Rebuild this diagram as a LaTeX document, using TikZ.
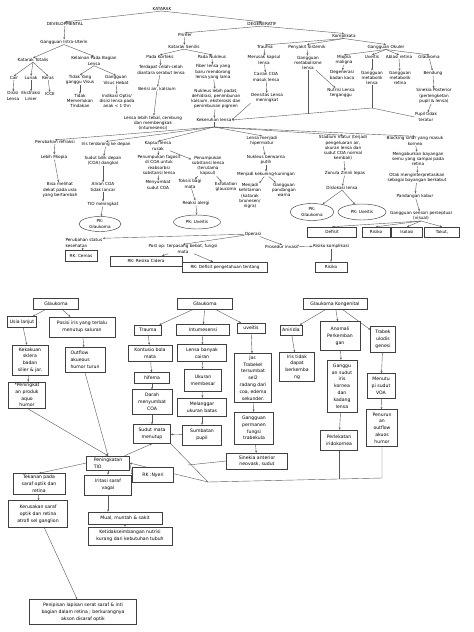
\documentclass[tikz,border=0pt]{standalone}
\usepackage{fontspec}
\newfontfamily\dv{DejaVu Sans}
\usetikzlibrary{arrows.meta,shapes.geometric,backgrounds}
\begin{document}
\begin{tikzpicture}[x=1pt,y=-1pt,
 tx/.style={font=\dv\fontsize{4.2}{5.2}\selectfont, align=center, inner sep=0.3pt},
 bx/.style={draw=black!75, line width=0.45pt, fill=white, font=\dv\fontsize{4.6}{6.8}\selectfont, align=center, inner sep=0.5pt},
 bxs/.style={bx, font=\dv\fontsize{4.2}{5.2}\selectfont},
 el/.style={ellipse, draw=black!75, line width=0.45pt, fill=white, font=\dv\fontsize{4.2}{5.2}\selectfont, align=center, inner sep=0pt},
 sz/.style 2 args={minimum width=#1, minimum height=#2},
 ln/.style={draw=black!65, line width=0.4pt},
 ar/.style={ln, -{Stealth[length=2.3pt,width=1.9pt]}},
]
\begin{pgfonlayer}{background}
\fill[white] (0,0) rectangle (474,632);
\end{pgfonlayer}
\useasboundingbox (0,0) rectangle (474,632);

% ---------- top part ----------
\node[tx] (kat) at (162,9) {KATARAK};
\node[tx] (dev) at (65,24) {DEVELOPMENTAL};
\node[tx] (deg) at (262,24) {DEGENERATIF};
\node[tx] (giu) at (64,42) {Gangguan Intra-Uterin};
\node[tx] (ktot) at (33,60) {Katarak Totalis};
\node[tx] (kbl) at (94,61) {Kelainan Pada Bagian\\Lensa};
\node[tx] (cair) at (14,78) {Cair};
\node[tx] (lunak) at (31,78) {Lunak};
\node[tx] (keras) at (48,78) {Keras};
\node[tx] (dis) at (13,96) {Disisi\\Lensa};
\node[tx] (eks) at (31,96) {Ekstraksi\\Linier};
\node[tx] (icce) at (50,94) {ICCE};
\node[tx] (tyg) at (80,80) {Tidak Yang\\ganggu Visus};
\node[tx] (gvh) at (116,80) {Gangguan\\Visus Hebat};
\node[tx] (tmt) at (80,101) {Tidak\\Memerlukan\\Tindakan};
\node[tx] (ind) at (117,101) {Indikasi Optis/\\disisi lensa pada\\anak < 1 thn};

\node[tx] (pri) at (185,35) {Primer};
\node[tx] (sen) at (184,47) {Katarak Senilis};
\node[tx] (pko) at (160,57) {Pada Korteks};
\node[tx] (pnu) at (212,57) {Pada Nukleus};
\node[tx] (tcc) at (161,70) {Terdapat celah-celah\\diantara serabut lensa};
\node[tx] (fib) at (213,72) {Fiber lensa yang\\baru mendorong\\lensa yang lama};
\node[tx] (bak) at (157,89) {Berisi air, kalsium};
\node[tx] (nlp) at (216,99) {Nukleus lebih padat,\\dehidrasi, penimbunan\\kalsium, eksterosis dan\\penimbunan pigmen};

\node[tx] (kom) at (344,36) {Komplikata};
\node[tx] (tra) at (265,47) {Trauma};
\node[tx] (sis) at (307,47) {Penyakit Sistemik};
\node[tx] (gok) at (386,47) {Gangguan Okuler};
\node[tx] (mkl) at (264,60) {Merusak kapsul\\lensa};
\node[tx] (coa) at (266,77) {Cairan COA\\masuk lensa};
\node[tx] (dlm) at (267,98) {Densitas Lensa\\meningkat};
\node[tx] (gml) at (308,63) {Gangguan\\metabolisme\\lensa};
\node[tx] (mio) at (344,60) {Miopia\\maligna};
\node[tx] (uve) at (372,57) {Uveitis};
\node[tx] (abl) at (399,57) {Ablasi retina};
\node[tx] (gla) at (429,57) {Glaukoma};
\node[tx] (dbk) at (342,75) {Degenerasi\\badan kaca};
\node[tx] (gmlu) at (372,78) {Gangguan\\metabolik\\lensa};
\node[tx] (gmr) at (400,78) {Gangguan\\metabolik\\retina};
\node[tx] (ben) at (433,73) {Bendung};
\node[tx] (nlt) at (341,93) {Nutrisi Lensa\\terganggu};
\node[tx] (sp) at (434,96) {Sinekia Posterior\\(perlengketan\\pupil \& lensa)};
\node[tx] (ptt) at (426,117) {Pupil tidak\\teratur};

\node[tx] (llt) at (153,123) {Lensa lebih tebal, cembung\\dan membengkak\\(intumesensi)};
\node[tx] (kek) at (214,120) {Kekeruhan lensa};

\node[tx] (pref) at (55,142) {Perubahan refraksi};
\node[tx] (itd) at (106,144) {Iris terdorong ke depan};
\node[tx] (klr) at (158,146) {Kapsul lensa\\rusak};
\node[tx] (lmh) at (262,141) {Lensa menjadi\\hipermatur};
\node[tx] (stm) at (343,148) {Stadium matur (terjadi\\pengeluaran air,\\ukuran lensa dan\\sudut COA normal\\kembali)};
\node[tx] (blk) at (415,141) {Blocking sinar yang masuk\\kornea};

\node[tx] (lmi) at (54,157) {Lebih Miopia};
\node[tx] (bmd) at (60,190) {Bisa melihat\\dekat pada usia\\yang bertambah};
\node[tx] (sbd) at (103,161) {Sudut bilik depan\\(COA) dangkal};
\node[tx] (acoa) at (103,187) {Aliran COA\\tidak lancar};
\node[tx] (tio1) at (103,204) {TIO meningkat};
\node[el, sz={42pt}{15pt}] (pkg1) at (100,224) {PK:\\Glaukoma};

\node[tx] (pfg) at (159,165) {Penumpukan fagosit\\di COA untuk\\reabsorbsi\\substansi lensa};
\node[tx] (msc) at (158,185) {Menyumbat\\sudut COA};
\node[tx] (psl) at (208,166) {Penumpukan\\substansi lensa\\(terutama\\kapsul)};
\node[tx] (tbm) at (190,184) {Toksis bagi\\mata};
\node[tx] (exg) at (226,187) {Exfoliation\\glaucoma};
\node[tx] (ral) at (196,203) {Reaksi alergi};
\node[el, sz={47pt}{14pt}] (pku) at (197,222) {PK: Uveitis};

\node[tx] (nbp) at (266,160) {Nukleus berwarna\\putih};
\node[tx] (mkk) at (266,174) {Menjadi kekuning-kuningan};
\node[tx] (mkh) at (250,196) {Menjadi\\kehitaman\\(katarak\\brunesen/\\nigra)};
\node[tx] (gpw) at (284,190) {Gangguan\\pandangan\\warna};

\node[tx] (zzl) at (345,173) {Zonula Zinnii lepas};
\node[tx] (dsl) at (342,188) {Dislokasi lensa};
\node[el, sz={44pt}{17pt}] (pkg2) at (312,212) {PK:\\Glaukoma};
\node[el, sz={48pt}{16pt}] (pku2) at (362,212) {PK: Uveitis};

\node[tx] (mby) at (418,159) {Mengaburkan bayangan\\semu yang sampai pada\\retina};
\node[tx] (otk) at (417,178) {Otak menginterpretasikan\\sebagai bayangan berkabut};
\node[tx] (pkb) at (415,196) {Pandangan kabur};
\node[tx] (gsp) at (421,216) {Gangguan sensori perseptual\\(visual)};
\node[bxs, sz={49pt}{10pt}] (def) at (332,232) {Defisit};
\node[bxs, sz={28pt}{10pt}] (ris) at (376,232) {Risiko};
\node[bxs, sz={31pt}{10pt}] (iso) at (407,232) {Isolasi};
\node[bxs, sz={35pt}{10pt}] (tak) at (442,232) {Takut,};

\node[tx] (ops) at (253,234) {Operasi};
\node[tx, align=left, anchor=west] (psk) at (65,243) {Perubahan status\\kesehatan};
\node[bxs, sz={32pt}{11pt}] (rkc) at (81,256) {RK: Cemas};
\node[tx] (pop) at (183,249) {Post op: terpasang bebat, fungsi\\mata};
\node[bxs, sz={72pt}{10pt}] (rkr) at (146,261) {RK: Resiko Cidera};
\node[bxs, sz={85pt}{10pt}] (rkd) at (225,267) {RK: Defisit pengetahuan tentang};
\node[tx] (pin) at (282,247) {Prosedur invasif};
\node[tx] (rkk) at (331,246) {Risiko komplikasi};
\node[bxs, sz={32pt}{10pt}] (risb) at (331,267) {Risiko};

% ---------- bottom part ----------
\node[bx, sz={45pt}{11pt}] (gl1) at (56,304) {Glaukoma};
\node[bx, sz={29pt}{11pt}] (ul) at (22,322) {Usia lanjut};
\node[bx, sz={66pt}{20pt}] (pis) at (82,327) {Posisi iris yang terlalu\\menutup saluran};
\node[bx, sz={36pt}{30pt}] (kks) at (30,360) {Kekakuan\\sklera\\badan\\silier \& jar.};
\node[bx, sz={37pt}{26pt}] (ppa) at (27,395) {*Peningkat\\an produk\\aquo\\humor};
\node[bx, sz={40pt}{25pt}, align=left] (ouh) at (85,360) {Outflow\\akueous\\humor turun};
\node[bx, sz={43pt}{14pt}, align=left] (tio) at (108,463) {Peningkatan\\TIO};

\node[bx, sz={55pt}{11pt}] (gl2) at (205,304) {Glaukoma};
\node[bx, sz={27pt}{10pt}] (trm) at (148,330) {Trauma};
\node[bx, sz={53pt}{11pt}] (int) at (203,330) {Intumesensi};
\node[bx, sz={28pt}{10pt}] (uvb) at (251,328) {uveitis};
\node[bx, sz={44pt}{16pt}] (kbm) at (150,353) {Kontusio bola\\mata};
\node[bx, sz={35pt}{11pt}] (hif) at (152,378) {hifema};
\node[bx, sz={40pt}{25pt}] (dms) at (152,402) {Darah\\menyumbat\\COA};
\node[bx, sz={37pt}{19pt}] (smm) at (152,434) {Sudut mata\\menutup};
\node[bx, sz={49pt}{17pt}] (lbc) at (202,353) {Lensa banyak\\cairan};
\node[bx, sz={37pt}{22pt}] (umb) at (203,380) {Ukuran\\membesar};
\node[bx, sz={49pt}{18pt}] (mub) at (202,407) {Melanggar\\ukuran batas};
\node[bx, sz={39pt}{20pt}] (spp) at (202,435) {Sumbatan\\pupil};
\node[bx, sz={37pt}{49pt}] (jtr) at (253,378) {Jar.\\Trabekel\\tersumbat\\sel2\\radang dari\\coa, edema\\sekunder.};
\node[bx, sz={39pt}{32pt}] (gpf) at (254,428) {Gangguan\\permanen\\fungsi\\trabekula};
\node[bx, sz={61pt}{16pt}] (sna) at (257,461) {Sinekia anterior\\neovask, sudut};

\node[bx, sz={64pt}{11pt}] (glk) at (335,304) {Glaukoma Kongenital};
\node[bx, sz={22pt}{10pt}] (ani) at (291,330) {Aniridia};
\node[bx, sz={35pt}{29pt}] (itb) at (297,367) {Iris tidak\\dapat\\berkemba\\ng};
\node[bx, sz={40pt}{29pt}] (anp) at (340,336) {Anomali\\Perkemban\\gan};
\node[bx, sz={25pt}{26pt}] (trb) at (383,339) {Trabek\\ulodis\\genesi};
\node[bx, sz={30pt}{52pt}] (gsi) at (342,386) {Ganggu\\an sudut\\iris\\kornea\\dan\\kadang\\lensa};
\node[bx, sz={37pt}{20pt}] (pik) at (339,440) {Perlekatan\\iridokornea};
\node[bx, sz={28pt}{25pt}] (mnt) at (381,386) {Menutu\\pi sudut\\VOA};
\node[bx, sz={31pt}{37pt}] (pna) at (382,428) {Penurun\\an\\outflow\\akuos\\humor};

\node[bx, sz={41pt}{15pt}] (rkn) at (153,475) {RK :Nyeri};
\node[bx, sz={52pt}{21pt}] (tkp) at (39,484) {Tekanan pada\\saraf optik dan\\retina};
\node[bx, sz={47pt}{20pt}] (isv) at (108,485) {Iritasi saraf\\vagal};
\node[bx, sz={59pt}{27pt}] (krs) at (38,514) {Kerusakan saraf\\optik dan retina\\atrofi sel ganglion};
\node[bx, sz={74pt}{12pt}] (mms) at (125,518) {Mual, muntah \& sakit};
\node[bx, sz={84pt}{18pt}] (kdn) at (130,536) {Ketidakseimbangan nutrisi\\kurang dari kebutuhan tubuh};
\node[bx, sz={107pt}{25pt}] (pls) at (83,612) {Penipisan lapisan serat saraf \& inti\\bagian dalam retina ; berkurangnya\\akson disaraf optik};

\coordinate (kf) at (214,127);
\coordinate (j1) at (372,108);
\coordinate (J) at (208,482);

% ---------- connectors ----------
\begin{pgfonlayer}{background}
\draw[ar] (kat.south) -- (dev.north);
\draw[ar] (kat.south) -- (deg.north);
\draw[ar] (dev) -- (giu);
\draw[ar] (giu.south) -- (ktot.north);
\draw[ar] (giu.south) -- (kbl.north);
\foreach \n in {cair,lunak,keras} \draw[ar] (ktot.south) -- (\n.north);
\draw[ar] (cair) -- (dis);
\draw[ar] (lunak) -- (eks);
\draw[ar] (keras) -- (icce);
\draw[ar] (kbl.south) -- (tyg.north);
\draw[ar] (kbl.south) -- (gvh.north);
\draw[ar] (tyg) -- (tmt);
\draw[ar] (gvh) -- (ind);

\draw[ar] (deg.south) -- (pri.north);
\draw[ar] (deg.south) -- (kom.north);
\draw[ar] (pri) -- (sen);
\draw[ar] (sen.south) -- (pko.north);
\draw[ar] (sen.south) -- (pnu.north);
\draw[ar] (pko) -- (tcc);
\draw[ar] (pnu) -- (fib);
\draw[ar] (tcc) -- (bak);
\draw[ar] (fib) -- (nlp);
\draw[ar] (bak) -- (llt);
\draw[ar] (nlp) -- (kek);

\foreach \n in {tra,sis,gok} \draw[ar] (kom.south) -- (\n.north);
\draw[ar] (tra) -- (mkl);
\draw[ar] (mkl) -- (coa);
\draw[ar] (coa) -- (dlm);
\draw[ar] (sis) -- (gml);
\foreach \n in {mio,uve,abl,gla} \draw[ar] (gok.south) -- (\n.north);
\draw[ar] (mio) -- (dbk);
\draw[ar] (uve) -- (gmlu);
\draw[ar] (abl) -- (gmr);
\draw[ar] (gla) -- (ben);
\draw[ar] (ben) -- (sp);
\draw[ar] (sp) -- (ptt);
\draw[ar] (gml) -- (nlt);

\draw[ar] (dlm.south west) -- (kek.east);
\draw[ln] (gmlu) -- (j1);
\draw[ln] (ptt.west) -- (j1);
\draw[ar] (j1) -- (kek.east);
\draw[ln] (gml) -- (308,113.5);

\draw[ln] (kek.south) -- (kf);
\foreach \n in {pref,itd,klr,lmh,stm,blk} \draw[ar] (kf) -- (\n.north);

\draw[ar] (pref) -- (lmi);
\draw[ar] (lmi) -- (bmd);
\draw[ar] (itd) -- (sbd);
\draw[ar] (sbd) -- (acoa);
\draw[ar] (acoa) -- (tio1);
\draw[ar] (tio1) -- (pkg1);
\draw[ar] (klr) -- (pfg);
\draw[ar] (pfg) -- (msc);
\draw[ar] (klr) -- (psl);
\draw[ar] (psl) -- (tbm);
\draw[ar] (psl) -- (exg);
\draw[ar] (tbm) -- (ral);
\draw[ar] (ral) -- (pku);
\draw[ar] (lmh) -- (nbp);
\draw[ar] (nbp) -- (mkk);
\draw[ar] (mkk) -- (mkh);
\draw[ar] (mkk) -- (gpw);
\draw[ar] (stm) -- (zzl);
\draw[ar] (zzl) -- (dsl);
\draw[ar] (dsl.south) -- (pkg2);
\draw[ar] (dsl.south) -- (pku2);
\draw[ar] (blk) -- (mby);
\draw[ar] (mby) -- (otk);
\draw[ar] (otk) -- (pkb);
\draw[ar] (pkb) -- (gsp);
\foreach \n in {def,ris,iso,tak} \draw[ar] (gsp.south) -- (\n.north);

\draw[ar] (ops) -- (psk.north east);
\draw[ar] (ops) -- (pop.north);
\draw[ar] (ops) -- (pin.north);
\draw[ar] (psk) -- (rkc);
\draw[ar] (pop) -- (rkr);
\draw[ar] (pop) -- (rkd);
\draw[ar] (pin) -- (rkk);
\draw[ar] (rkk) -- (risb);

\draw[ar] (gl1) -- (ul);
\draw[ar] (gl1) -- (pis);
\draw[ar] (ul) -- (kks);
\draw[ar] (kks) -- (ppa);
\draw[ar] (pis) -- (ouh);
\draw[ar] (ouh.south) -- (tio.north);
\draw[ar] (ppa.south) -- (tio.north);

\draw[ar] (gl2) -- (trm);
\draw[ar] (gl2) -- (int);
\draw[ar] (gl2) -- (uvb);
\draw[ar] (trm) -- (kbm);
\draw[ar] (kbm) -- (hif);
\draw[ar] (hif) -- (dms);
\draw[ar] (dms) -- (smm);
\draw[ar] (int) -- (lbc);
\draw[ar] (lbc) -- (umb);
\draw[ar] (umb) -- (mub);
\draw[ar] (mub) -- (spp);
\draw[ar] (spp) -- (smm);
\draw[ar] (tio) -- (smm.south);
\draw[ar] (uvb) -- (jtr);
\draw[ar] (jtr) -- (gpf);
\draw[ar] (gpf) -- (sna);

\draw[ar] (glk) -- (ani);
\draw[ar] (glk) -- (anp);
\draw[ar] (glk) -- (trb);
\draw[ar] (ani) -- (itb);
\draw[ar] (anp) -- (gsi);
\draw[ar] (gsi) -- (pik);
\draw[ar] (trb) -- (mnt);
\draw[ar] (mnt) -- (pna);

\draw[ln] (pna.south) -- (382,478) -- (J);
\draw[ln] (pik.south) -- (339,479);
\draw[ln] (J) -- (smm.south east);
\draw[ln] (sna.west) -- (188,465);
\draw[ar] (J) -- (tio.east);

\draw[ar] (tio.east) -- (rkn.west);
\draw[ar] (tio.west) -- (tkp.north);
\draw[ar] (tio.south) -- (tio.south |- isv.north);
\draw[ar] (tkp) -- (krs);
\draw[ar] (isv.south) -- (isv.south |- mms.north);
\draw[ar] (mms.south) -- (mms.south |- kdn.north);
\draw[ar] (krs) -- (pls);
\end{pgfonlayer}
\end{tikzpicture}
\end{document}
